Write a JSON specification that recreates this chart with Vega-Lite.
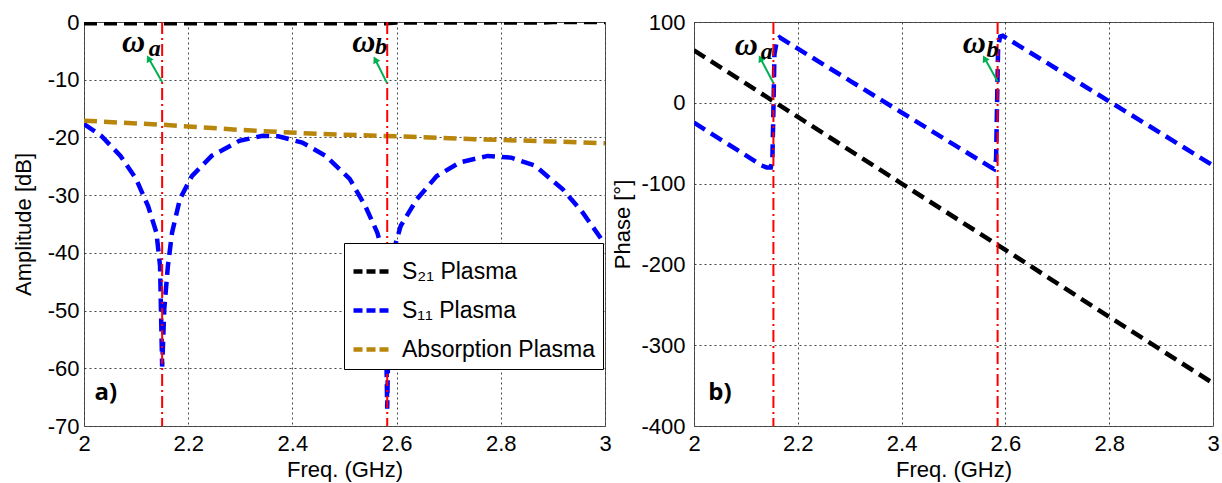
{
  "$schema": "https://vega.github.io/schema/vega-lite/v6.json",
  "background": "white",
  "padding": {"left": 11, "top": 10, "right": 5, "bottom": 2},
  "autosize": {"type": "pad"},
  "spacing": 89,
  "bounds": "flush",
  "resolve": {"scale": {"color": "independent"}, "legend": {"color": "independent"}},
  "config": {
    "view": {"stroke": "#555", "strokeWidth": 1},
    "axis": {"labelFont": "Liberation Sans", "labelFontSize": 22, "titleFont": "Liberation Sans", "titleFontSize": 22, "titleFontWeight": "normal", "labelColor": "black", "titleColor": "black", "ticks": false, "domain": false, "grid": true, "gridColor": "#333", "gridDash": [2, 3], "gridWidth": 1, "gridOpacity": 0.9, "labelFlush": false, "labelOverlap": false},
    "axisX": {"labelPadding": 7, "titlePadding": 5},
    "axisY": {"labelPadding": 5, "titlePadding": 12},
    "legend": {"labelFont": "Liberation Sans", "labelFontSize": 23, "labelColor": "black", "symbolType": "stroke", "symbolStrokeWidth": 4.5, "symbolDash": [9, 4], "symbolSize": 1444, "padding": 7, "strokeColor": "black", "fillColor": "white", "rowPadding": 5, "labelOffset": 8, "labelLimit": 300}
  },
  "datasets": {
    "amp": [
      {"f": 2.0, "v": -0.2, "s": "S₂₁ Plasma"},
      {"f": 2.58, "v": -0.2, "s": "S₂₁ Plasma"},
      {"f": 2.6, "v": -0.1, "s": "S₂₁ Plasma"},
      {"f": 2.88, "v": -0.1, "s": "S₂₁ Plasma"},
      {"f": 2.9, "v": 0, "s": "S₂₁ Plasma"},
      {"f": 3.0, "v": 0, "s": "S₂₁ Plasma"},
      {"f": 2.0, "v": -17.7, "s": "S₁₁ Plasma"},
      {"f": 2.033, "v": -19.7, "s": "S₁₁ Plasma"},
      {"f": 2.07, "v": -23.2, "s": "S₁₁ Plasma"},
      {"f": 2.1, "v": -27.2, "s": "S₁₁ Plasma"},
      {"f": 2.123, "v": -31.9, "s": "S₁₁ Plasma"},
      {"f": 2.139, "v": -36.5, "s": "S₁₁ Plasma"},
      {"f": 2.146, "v": -42.3, "s": "S₁₁ Plasma"},
      {"f": 2.148, "v": -51, "s": "S₁₁ Plasma"},
      {"f": 2.15, "v": -59.7, "s": "S₁₁ Plasma"},
      {"f": 2.152, "v": -55, "s": "S₁₁ Plasma"},
      {"f": 2.154, "v": -49.8, "s": "S₁₁ Plasma"},
      {"f": 2.161, "v": -42.3, "s": "S₁₁ Plasma"},
      {"f": 2.169, "v": -36.5, "s": "S₁₁ Plasma"},
      {"f": 2.184, "v": -30.7, "s": "S₁₁ Plasma"},
      {"f": 2.207, "v": -26.7, "s": "S₁₁ Plasma"},
      {"f": 2.245, "v": -23.2, "s": "S₁₁ Plasma"},
      {"f": 2.298, "v": -20.6, "s": "S₁₁ Plasma"},
      {"f": 2.343, "v": -19.7, "s": "S₁₁ Plasma"},
      {"f": 2.373, "v": -19.8, "s": "S₁₁ Plasma"},
      {"f": 2.419, "v": -20.9, "s": "S₁₁ Plasma"},
      {"f": 2.464, "v": -23.2, "s": "S₁₁ Plasma"},
      {"f": 2.51, "v": -27.2, "s": "S₁₁ Plasma"},
      {"f": 2.54, "v": -31.9, "s": "S₁₁ Plasma"},
      {"f": 2.563, "v": -36.5, "s": "S₁₁ Plasma"},
      {"f": 2.574, "v": -40, "s": "S₁₁ Plasma"},
      {"f": 2.579, "v": -50, "s": "S₁₁ Plasma"},
      {"f": 2.582, "v": -67, "s": "S₁₁ Plasma"},
      {"f": 2.585, "v": -50, "s": "S₁₁ Plasma"},
      {"f": 2.593, "v": -40, "s": "S₁₁ Plasma"},
      {"f": 2.608, "v": -35.3, "s": "S₁₁ Plasma"},
      {"f": 2.639, "v": -30.7, "s": "S₁₁ Plasma"},
      {"f": 2.677, "v": -26.7, "s": "S₁₁ Plasma"},
      {"f": 2.722, "v": -24.3, "s": "S₁₁ Plasma"},
      {"f": 2.775, "v": -23.2, "s": "S₁₁ Plasma"},
      {"f": 2.82, "v": -23.5, "s": "S₁₁ Plasma"},
      {"f": 2.866, "v": -24.9, "s": "S₁₁ Plasma"},
      {"f": 2.919, "v": -29, "s": "S₁₁ Plasma"},
      {"f": 2.957, "v": -33, "s": "S₁₁ Plasma"},
      {"f": 3.0, "v": -38.5, "s": "S₁₁ Plasma"},
      {"f": 2.0, "v": -17.1, "s": "Absorption Plasma"},
      {"f": 2.15, "v": -17.8, "s": "Absorption Plasma"},
      {"f": 2.3, "v": -18.7, "s": "Absorption Plasma"},
      {"f": 2.45, "v": -19.4, "s": "Absorption Plasma"},
      {"f": 2.6, "v": -19.8, "s": "Absorption Plasma"},
      {"f": 2.75, "v": -20.3, "s": "Absorption Plasma"},
      {"f": 2.9, "v": -20.7, "s": "Absorption Plasma"},
      {"f": 3.0, "v": -21.0, "s": "Absorption Plasma"}
    ],
    "ph": [
      {"f": 2.0, "v": 65, "s": "S21"},
      {"f": 2.2, "v": -17.5, "s": "S21"},
      {"f": 2.4, "v": -100, "s": "S21"},
      {"f": 2.6, "v": -182, "s": "S21"},
      {"f": 2.8, "v": -265, "s": "S21"},
      {"f": 3.0, "v": -347, "s": "S21"},
      {"f": 2.0, "v": -24.5, "s": "S11"},
      {"f": 2.05, "v": -45, "s": "S11"},
      {"f": 2.1, "v": -65, "s": "S11"},
      {"f": 2.13, "v": -77.6, "s": "S11"},
      {"f": 2.14, "v": -80, "s": "S11"},
      {"f": 2.148, "v": -80, "s": "S11"},
      {"f": 2.151, "v": -70, "s": "S11"},
      {"f": 2.153, "v": -10, "s": "S11"},
      {"f": 2.155, "v": 60, "s": "S11"},
      {"f": 2.16, "v": 78, "s": "S11"},
      {"f": 2.165, "v": 81, "s": "S11"},
      {"f": 2.2, "v": 67, "s": "S11"},
      {"f": 2.3, "v": 27.5, "s": "S11"},
      {"f": 2.4, "v": -12, "s": "S11"},
      {"f": 2.5, "v": -51.5, "s": "S11"},
      {"f": 2.57, "v": -79, "s": "S11"},
      {"f": 2.578, "v": -82, "s": "S11"},
      {"f": 2.582, "v": -70, "s": "S11"},
      {"f": 2.584, "v": 0, "s": "S11"},
      {"f": 2.586, "v": 70, "s": "S11"},
      {"f": 2.59, "v": 82, "s": "S11"},
      {"f": 2.595, "v": 83, "s": "S11"},
      {"f": 2.7, "v": 41.5, "s": "S11"},
      {"f": 2.8, "v": 1.8, "s": "S11"},
      {"f": 2.9, "v": -37.8, "s": "S11"},
      {"f": 3.0, "v": -77.6, "s": "S11"}
    ]
  },
  "hconcat": [
    {
      "width": 521,
      "height": 404,
      "layer": [
        {
          "data": {"name": "amp"},
          "mark": {"type": "line", "strokeWidth": 4.5, "strokeDash": [13, 7], "clip": true},
          "encoding": {
            "x": {"field": "f", "type": "quantitative", "scale": {"domain": [2, 3]}, "axis": {"title": "Freq. (GHz)", "values": [2, 2.2, 2.4, 2.6, 2.8, 3], "labelExpr": "'' + datum.value"}},
            "y": {"field": "v", "type": "quantitative", "scale": {"domain": [-70, 0]}, "axis": {"title": "Amplitude [dB]", "values": [-70, -60, -50, -40, -30, -20, -10, 0], "labelExpr": "'' + datum.value"}},
            "color": {"field": "s", "type": "nominal", "scale": {"domain": ["S₂₁ Plasma", "S₁₁ Plasma", "Absorption Plasma"], "range": ["#000000", "#0000ff", "#b8860b"]}, "legend": {"title": null, "orient": "none", "legendX": 260, "legendY": 221}}
          }
        },
        {
          "data": {"values": [{"f": 2.15}, {"f": 2.582}]},
          "mark": {"type": "rule", "color": "#ff0000", "strokeWidth": 2, "strokeDash": [12, 4, 2, 4]},
          "encoding": {"x": {"field": "f", "type": "quantitative"}}
        },
        {
          "data": {"values": [{"f": 2.15, "v": -10.4, "f2": 2.124, "v2": -6.3}, {"f": 2.5816, "v": -10.6, "f2": 2.559, "v2": -6.5}]},
          "mark": {"type": "rule", "color": "#00b050", "strokeWidth": 2},
          "encoding": {"x": {"field": "f", "type": "quantitative"}, "y": {"field": "v", "type": "quantitative"}, "x2": {"field": "f2"}, "y2": {"field": "v2"}}
        },
        {
          "data": {"values": [{"f": 2.124, "v": -6.3}, {"f": 2.559, "v": -6.5}]},
          "mark": {"type": "point", "shape": "triangle-up", "filled": true, "color": "#00b050", "size": 60, "angle": 332, "opacity": 1},
          "encoding": {"x": {"field": "f", "type": "quantitative"}, "y": {"field": "v", "type": "quantitative"}}
        },
        {
          "data": {"values": [{"f": 2.095, "v": -3.4, "t": "ω"}, {"f": 2.537, "v": -3.4, "t": "ω"}]},
          "mark": {"type": "text", "font": "Liberation Serif", "fontStyle": "italic", "fontWeight": "bold", "fontSize": 32, "color": "black", "align": "center", "baseline": "middle"},
          "encoding": {"x": {"field": "f", "type": "quantitative"}, "y": {"field": "v", "type": "quantitative"}, "text": {"field": "t"}}
        },
        {
          "data": {"values": [{"f": 2.136, "v": -4.6, "t": "a"}, {"f": 2.57, "v": -4.3, "t": "b"}]},
          "mark": {"type": "text", "font": "Liberation Serif", "fontStyle": "italic", "fontWeight": "bold", "fontSize": 24, "color": "black", "align": "center", "baseline": "middle"},
          "encoding": {"x": {"field": "f", "type": "quantitative"}, "y": {"field": "v", "type": "quantitative"}, "text": {"field": "t"}}
        },
        {
          "data": {"values": [{"f": 2.042, "v": -64.3, "t": "a)"}]},
          "mark": {"type": "text", "font": "Open Sans", "fontWeight": "bold", "fontSize": 24, "color": "black", "align": "center", "baseline": "middle"},
          "encoding": {"x": {"field": "f", "type": "quantitative"}, "y": {"field": "v", "type": "quantitative"}, "text": {"field": "t"}}
        }
      ]
    },
    {
      "width": 519,
      "height": 404,
      "layer": [
        {
          "data": {"name": "ph"},
          "transform": [{"filter": "datum.s == 'S21'"}],
          "mark": {"type": "line", "strokeWidth": 4.5, "strokeDash": [13, 7], "color": "#000000", "clip": true},
          "encoding": {
            "x": {"field": "f", "type": "quantitative", "scale": {"domain": [2, 3]}, "axis": {"title": "Freq. (GHz)", "values": [2, 2.2, 2.4, 2.6, 2.8, 3], "labelExpr": "'' + datum.value"}},
            "y": {"field": "v", "type": "quantitative", "scale": {"domain": [-400, 100]}, "axis": {"title": "Phase [°]", "values": [-400, -300, -200, -100, 0, 100], "labelExpr": "'' + datum.value", "labelPadding": 9, "titlePadding": 6}}
          }
        },
        {
          "data": {"name": "ph"},
          "transform": [{"filter": "datum.s == 'S11'"}],
          "mark": {"type": "line", "strokeWidth": 4.5, "strokeDash": [13, 7], "color": "#0000ff", "clip": true},
          "encoding": {"x": {"field": "f", "type": "quantitative"}, "y": {"field": "v", "type": "quantitative"}}
        },
        {
          "data": {"values": [{"f": 2.153}, {"f": 2.585}]},
          "mark": {"type": "rule", "color": "#ff0000", "strokeWidth": 2, "strokeDash": [12, 4, 2, 4]},
          "encoding": {"x": {"field": "f", "type": "quantitative"}}
        },
        {
          "data": {"values": [{"f": 2.153, "v": 24.5, "f2": 2.128, "v2": 55}, {"f": 2.585, "v": 26.5, "f2": 2.56, "v2": 55}]},
          "mark": {"type": "rule", "color": "#00b050", "strokeWidth": 2},
          "encoding": {"x": {"field": "f", "type": "quantitative"}, "y": {"field": "v", "type": "quantitative"}, "x2": {"field": "f2"}, "y2": {"field": "v2"}}
        },
        {
          "data": {"values": [{"f": 2.128, "v": 55}, {"f": 2.56, "v": 55}]},
          "mark": {"type": "point", "shape": "triangle-up", "filled": true, "color": "#00b050", "size": 60, "angle": 332, "opacity": 1},
          "encoding": {"x": {"field": "f", "type": "quantitative"}, "y": {"field": "v", "type": "quantitative"}}
        },
        {
          "data": {"values": [{"f": 2.101, "v": 71.4, "t": "ω"}, {"f": 2.54, "v": 73.5, "t": "ω"}]},
          "mark": {"type": "text", "font": "Liberation Serif", "fontStyle": "italic", "fontWeight": "bold", "fontSize": 32, "color": "black", "align": "center", "baseline": "middle"},
          "encoding": {"x": {"field": "f", "type": "quantitative"}, "y": {"field": "v", "type": "quantitative"}, "text": {"field": "t"}}
        },
        {
          "data": {"values": [{"f": 2.14, "v": 63.3, "t": "a"}, {"f": 2.575, "v": 65.3, "t": "b"}]},
          "mark": {"type": "text", "font": "Liberation Serif", "fontStyle": "italic", "fontWeight": "bold", "fontSize": 24, "color": "black", "align": "center", "baseline": "middle"},
          "encoding": {"x": {"field": "f", "type": "quantitative"}, "y": {"field": "v", "type": "quantitative"}, "text": {"field": "t"}}
        },
        {
          "data": {"values": [{"f": 2.05, "v": -359, "t": "b)"}]},
          "mark": {"type": "text", "font": "Open Sans", "fontWeight": "bold", "fontSize": 24, "color": "black", "align": "center", "baseline": "middle"},
          "encoding": {"x": {"field": "f", "type": "quantitative"}, "y": {"field": "v", "type": "quantitative"}, "text": {"field": "t"}}
        }
      ]
    }
  ]
}
